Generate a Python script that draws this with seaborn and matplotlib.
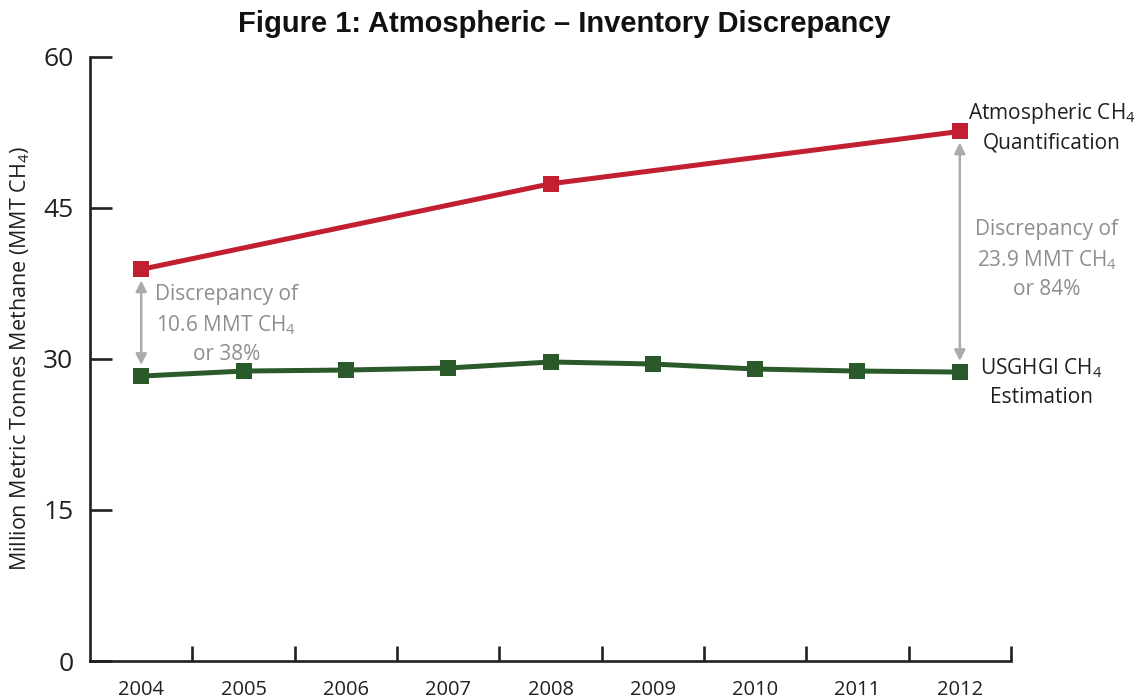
import numpy as np
import pandas as pd
import matplotlib
matplotlib.use("Agg")
import matplotlib.pyplot as plt
from matplotlib.ticker import FixedLocator
import seaborn as sns

# Data
years_atm = [2004, 2008, 2012]
atm_ch4 = [38.9, 47.4, 52.6]
years_inv = [2004, 2005, 2006, 2007, 2008, 2009, 2010, 2011, 2012]
inv_ch4 = [28.3, 28.8, 28.9, 29.1, 29.7, 29.5, 29.0, 28.8, 28.7]
y_ticks = [0, 15, 30, 45, 60]

df_atm = pd.DataFrame({"year": years_atm, "ch4": atm_ch4})
df_inv = pd.DataFrame({"year": years_inv, "ch4": inv_ch4})

sns.set_style("white")
plt.rcParams["font.family"] = ["Open Sans", "DejaVu Sans"]
plt.rcParams["mathtext.fontset"] = "custom"
plt.rcParams["mathtext.rm"] = "Open Sans"

red = "#C21F32"
green = "#2B5A2A"
grey_arrow = "#A9ABAE"
grey_text = "#8C8E91"
dark = "#231F20"

fig = plt.figure(figsize=(11.47, 7), dpi=100)
ax = fig.add_axes([0.0785, 0.0557, 0.8029, 0.863])

sns.lineplot(data=df_atm, x="year", y="ch4", ax=ax, color=red, lw=3.6,
             marker="s", markersize=11.5, markeredgewidth=0, clip_on=False, zorder=3)
sns.lineplot(data=df_inv, x="year", y="ch4", ax=ax, color=green, lw=3.6,
             marker="s", markersize=11.5, markeredgewidth=0, clip_on=False, zorder=3)

ax.set_xlim(2003.5, 2012.5)
ax.set_ylim(0, 60)

# spines
for s in ["top", "right"]:
    ax.spines[s].set_visible(False)
for s in ["left", "bottom"]:
    ax.spines[s].set_color(dark)
    ax.spines[s].set_linewidth(1.9)

# ticks (seaborn white style hides them, so switch back on)
ax.set_yticks(y_ticks)
ax.tick_params(axis="y", left=True, direction="in", length=16, width=1.9, color=dark,
               labelsize=19, labelcolor=dark, pad=12)
ax.set_xticks(years_inv)
ax.set_xticklabels([str(y) for y in years_inv])
ax.xaxis.set_minor_locator(FixedLocator(np.arange(2004.5, 2013, 1.0)))
ax.tick_params(axis="x", which="major", bottom=True, length=0, labelsize=14.5,
               labelcolor=dark, pad=14)
ax.tick_params(axis="x", which="minor", bottom=True, direction="in", length=11,
               width=1.9, color=dark)

ax.set_xlabel("")
ax.set_ylabel(r"Million Metric Tonnes Methane (MMT CH$_\mathregular{4}$)",
              fontsize=15.5, color=dark)
ax.yaxis.set_label_coords(-0.063, 0.5)

fig.suptitle("Figure 1: Atmospheric \u2013 Inventory Discrepancy",
             x=0.492, y=0.985, fontsize=21, fontweight="bold",
             family="Liberation Sans", color="#111111")

# discrepancy arrows
arrow_kw = dict(arrowstyle="<|-|>", color=grey_arrow, lw=1.8,
                mutation_scale=16, shrinkA=0, shrinkB=0)
ax.annotate("", xy=(2004, inv_ch4[0] + 1.1), xytext=(2004, atm_ch4[0] - 1.1),
            arrowprops=arrow_kw)
ax.annotate("", xy=(2012, inv_ch4[-1] + 1.1), xytext=(2012, atm_ch4[-1] - 1.1),
            arrowprops=arrow_kw)

ax.text(2004.83, 33.4, "Discrepancy of\n10.6 MMT CH$_\\mathregular{4}$\nor 38%",
        ha="center", va="center", fontsize=15, color=grey_text, linespacing=1.45)
ax.text(2012.85, 39.9, "Discrepancy of\n23.9 MMT CH$_\\mathregular{4}$\nor 84%",
        ha="center", va="center", fontsize=15, color=grey_text, linespacing=1.45)

# series labels
ax.text(2012.9, 53.0, "Atmospheric CH$_\\mathregular{4}$\nQuantification",
        ha="center", va="center", fontsize=15, color=dark, linespacing=1.4)
ax.text(2012.8, 27.7, "USGHGI CH$_\\mathregular{4}$\nEstimation",
        ha="center", va="center", fontsize=15, color=dark, linespacing=1.4)

fig.savefig("out.png", dpi=100)
